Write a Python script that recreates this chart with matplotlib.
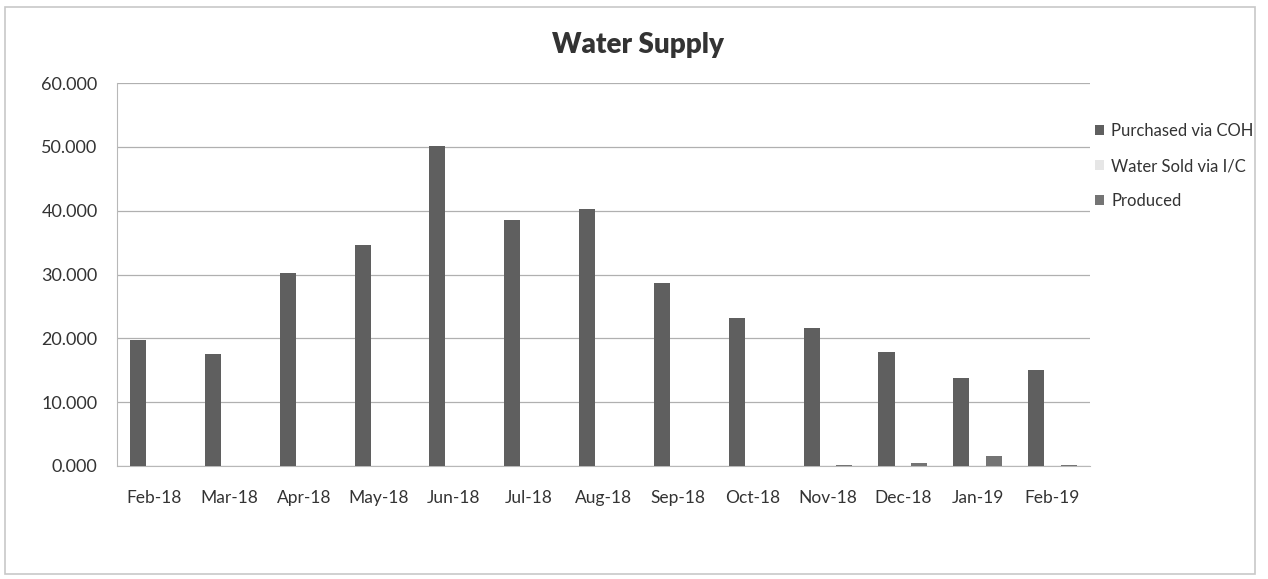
import numpy as np
import matplotlib.pyplot as plt
from matplotlib.patches import Rectangle

months = ['Feb-18', 'Mar-18', 'Apr-18', 'May-18', 'Jun-18', 'Jul-18', 'Aug-18',
          'Sep-18', 'Oct-18', 'Nov-18', 'Dec-18', 'Jan-19', 'Feb-19']
purchased = [19.8, 17.5, 30.2, 34.6, 50.1, 38.5, 40.3, 28.7, 23.2, 21.6, 17.9, 13.8, 15.0]
sold_ic = [0, 0, 0, 0, 0, 0, 0, 0, 0, 0, 0, 0, 0]
produced = [0, 0, 0, 0, 0, 0, 0, 0, 0, 0.2, 0.5, 1.6, 0.2]

plt.rcParams['font.family'] = ['Lato', 'DejaVu Sans']

fig = plt.figure(figsize=(12.68, 5.79), dpi=100)
ax = fig.add_axes([0.0923, 0.1952, 0.7673, 0.6614])

x = np.arange(len(months))
w = 0.215
ax.bar(x - w * 1.02, purchased, w, color='#5f5f5f', label='Purchased via COH', zorder=3)
ax.bar(x, sold_ic, w, color='#e6e6e6', label='Water Sold via I/C', zorder=3)
ax.bar(x + w * 1.02, produced, w, color='#747474', label='Produced', zorder=3)

ax.set_xlim(-0.5, len(months) - 0.5)
ax.set_ylim(0, 60)
ax.set_yticks(np.arange(0, 61, 10))
ax.set_yticklabels(['%.3f' % v for v in np.arange(0, 61, 10)], fontsize=13, color='#333333')
ax.set_xticks(x)
ax.set_xticklabels(months, fontsize=12.5, color='#333333')
ax.tick_params(axis='x', length=0, pad=17)
ax.tick_params(axis='y', length=0, pad=14)
ax.grid(axis='y', color='#b0b0b0', linewidth=0.9, zorder=0)
for s in ['top', 'right']:
    ax.spines[s].set_visible(False)
ax.spines['left'].set_color('#b8b8b8')
ax.spines['bottom'].set_color('#b8b8b8')

# title sits centred on the whole chart, not the plot area
fig.text(0.503, 0.922, 'Water Supply', fontsize=20, fontweight='heavy', color='#333333',
         ha='center', va='center')

ax.legend(loc='upper left', bbox_to_anchor=(0.99, 0.935), frameon=False, fontsize=12,
          handlelength=0.55, handleheight=0.55, labelspacing=1.15, handletextpad=0.4,
          labelcolor='#333333')

fig.patches.append(Rectangle((0.004, 0.008), 0.986, 0.98, transform=fig.transFigure,
                             fill=False, edgecolor='#c8c8c8', linewidth=1.2))

fig.savefig('out.png', dpi=100)
